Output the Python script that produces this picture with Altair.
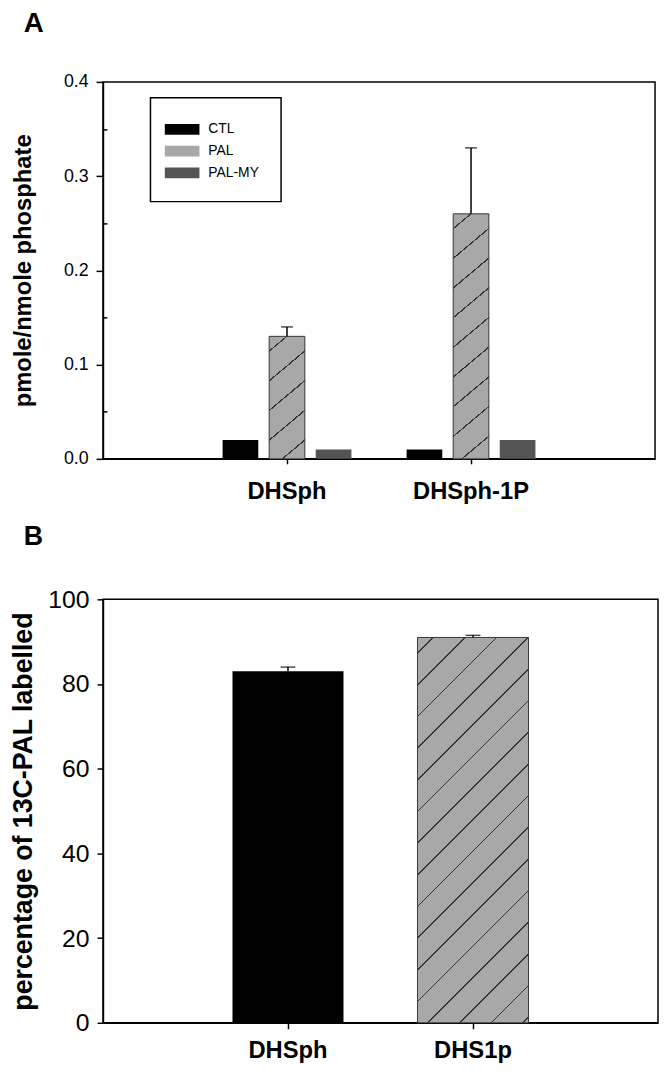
import math
import altair as alt
import pandas as pd

FONT = "Liberation Sans"

# ---------------- Panel A data ----------------
a_lipids = ["DHSph", "DHSph-1P"]
a_groups = ["CTL", "PAL", "PAL-MY"]
a_ctl = [0.02, 0.01]
a_pal = [0.13, 0.26]
a_palmy = [0.01, 0.02]
a_ctl_err = [0.0, 0.0]
a_pal_err = [0.01, 0.07]
a_palmy_err = [0.0, 0.0]
a_colors = ["#000000", "#a8a8a8", "#555555"]
a_yticks = [0.0, 0.1, 0.2, 0.3, 0.4]
a_yminor = [0.05, 0.15, 0.25, 0.35]

# ---------------- Panel B data ----------------
b_lipids = ["DHSph", "DHS1p"]
b_values = [83, 91]
b_err = [1.0, 0.5]
b_colors = ["#000000", "#a8a8a8"]
b_yticks = [0, 20, 40, 60, 80, 100]

# sizes (style)
A_W, A_H, A_MAX = 558, 381, 0.4
B_W, B_H, B_MAX = 561, 428, 100


def hatch(w, h, theta=45.0, sy=31.0, lw=1.2, base="#a8a8a8", line="#333333"):
    """Linear-gradient fill that draws diagonal hatch lines on a w x h rect."""
    k = h / (w * math.tan(math.radians(theta)))
    gx = (1 + k) / (1 + k * k)
    gy = k * gx
    period = sy * k / (h * (1 + k))
    g = math.sqrt(1 / w ** 2 + k ** 2 / h ** 2) / (1 + k)
    half = lw * g / 2
    stops = [{"offset": 0, "color": base}]
    c = period * 0.5
    while c - half < 1:
        a = max(c - half, 0)
        b = min(c + half, 1)
        stops += [{"offset": a, "color": base}, {"offset": a, "color": line},
                  {"offset": b, "color": line}, {"offset": b, "color": base}]
        c += period
    stops.append({"offset": 1, "color": base})
    return {"gradient": "linear", "x1": 0, "y1": 0, "x2": gx, "y2": gy, "stops": stops}


rows = []
for i, lip in enumerate(a_lipids):
    for grp, vals, errs in zip(a_groups, [a_ctl, a_pal, a_palmy],
                               [a_ctl_err, a_pal_err, a_palmy_err]):
        rows.append({"lipid": lip, "group": grp, "value": vals[i], "err": errs[i]})
df_a = pd.DataFrame(rows)

xa = alt.X("lipid:N", sort=a_lipids,
           scale=alt.Scale(domain=a_lipids, paddingInner=0.3, paddingOuter=0.65),
           axis=alt.Axis(title=None, labelAngle=0, labelFont=FONT, labelFontSize=24,
                         labelFontWeight="bold", labelColor="black", labelPadding=16,
                         tickSize=5, tickWidth=1.5, tickColor="black",
                         domainColor="black", domainWidth=1.5, grid=False))
xoa = alt.XOffset("group:N", sort=a_groups,
                  scale=alt.Scale(domain=a_groups, paddingInner=0.234, paddingOuter=0))
ya_scale = alt.Scale(domain=[0, A_MAX], nice=False, zero=True)

major_a = alt.Axis(values=a_yticks, format=".1f", tickSize=7, tickWidth=1.5,
                   tickColor="black", domainColor="black", domainWidth=1.5,
                   labelFont=FONT, labelFontSize=18, labelColor="black", labelPadding=8,
                   title="pmole/nmole phosphate", titleFont=FONT, titleFontSize=24,
                   titleFontWeight="bold", titleColor="black", titleX=-68,
                   grid=False, orient="left")
minor_a = alt.Axis(values=a_yminor, labels=False, domain=False, tickSize=4, tickWidth=1.5,
                   tickColor="black", offset=-4, grid=False, title=None, orient="left")

base_a = alt.Chart(df_a).encode(x=xa, xOffset=xoa)

bars_a = base_a.mark_bar().encode(
    y=alt.Y("value:Q", scale=ya_scale, axis=major_a),
    color=alt.Color("group:N", sort=a_groups,
                    scale=alt.Scale(domain=a_groups, range=a_colors),
                    legend=alt.Legend(title=None, orient="none", legendX=48, legendY=16,
                                      symbolType="M-1.75,-0.55H1.75V0.55H-1.75Z",
                                      symbolSize=400,
                                      symbolStrokeWidth=0, symbolOpacity=1,
                                      labelFont=FONT, labelFontSize=14, labelColor="black",
                                      labelOffset=16.5, padding=22, rowPadding=5,
                                      strokeColor="black", fillColor="white")),
)

hatch_layers_a = []
for i, lip in enumerate(a_lipids):
    h_px = a_pal[i] / A_MAX * A_H
    grad = hatch(36.1, h_px, theta=40, sy=30)
    hatch_layers_a.append(
        base_a.transform_filter(
            (alt.datum.group == "PAL") & (alt.datum.lipid == lip)
        ).mark_bar(fill=grad, stroke="#3a3a3a", strokeWidth=1).encode(
            y=alt.Y("value:Q", scale=ya_scale, axis=None))
    )

err_a = base_a.transform_filter("datum.err > 0").transform_calculate(
    top="datum.value + datum.err")
rule_a = err_a.mark_rule(color="black", strokeWidth=1.5).encode(
    y=alt.Y("value:Q", scale=ya_scale, axis=None), y2="top:Q")
cap_a = err_a.mark_tick(color="black", thickness=1.5, size=12, orient="horizontal").encode(
    y=alt.Y("top:Q", scale=ya_scale, axis=minor_a))

chart_a = alt.layer(bars_a, *hatch_layers_a, rule_a, cap_a).resolve_axis(
    y="independent").properties(
    width=A_W, height=A_H,
    title=alt.TitleParams("A", anchor="start", frame="group", fontSize=28,
                          fontWeight="bold", font=FONT, color="black",
                          dx=-80, offset=35))

# ---------------- Panel B ----------------
df_b = pd.DataFrame({"lipid": b_lipids, "value": b_values, "err": b_err})
xb = alt.X("lipid:N", sort=b_lipids,
           scale=alt.Scale(domain=b_lipids, paddingInner=0.4, paddingOuter=0.7),
           axis=alt.Axis(title=None, labelAngle=0, labelFont=FONT, labelFontSize=24,
                         labelFontWeight="bold", labelColor="black", labelPadding=10,
                         tickSize=6, tickWidth=1.5, tickColor="black",
                         domainColor="black", domainWidth=1.5, grid=False))
yb_scale = alt.Scale(domain=[0, B_MAX], nice=False)
axis_b = alt.Axis(values=b_yticks, tickSize=6, tickWidth=1.5, tickColor="black",
                  domainColor="black", domainWidth=1.5, labelFont=FONT, labelFontSize=25,
                  labelColor="black", labelPadding=8,
                  title="percentage of 13C-PAL labelled", titleFont=FONT, titleFontSize=27,
                  titleFontWeight="bold", titleColor="black", titleX=-66, grid=False,
                  orient="left")

base_b = alt.Chart(df_b).encode(x=xb)
bars_b = base_b.mark_bar().encode(
    y=alt.Y("value:Q", scale=yb_scale, axis=axis_b),
    color=alt.Color("lipid:N", sort=b_lipids,
                    scale=alt.Scale(domain=b_lipids, range=b_colors), legend=None))
hatch_b = base_b.transform_filter(alt.datum.lipid == "DHS1p").mark_bar(
    fill=hatch(112.2, b_values[1] / B_MAX * B_H, theta=45, sy=32),
    stroke="#3a3a3a", strokeWidth=1).encode(y=alt.Y("value:Q", scale=yb_scale, axis=None))
err_b = base_b.transform_calculate(top="datum.value + datum.err")
rule_b = err_b.mark_rule(color="black", strokeWidth=1.5).encode(
    y=alt.Y("value:Q", scale=yb_scale, axis=None), y2="top:Q")
cap_b = err_b.mark_tick(color="black", thickness=1.5, size=15, orient="horizontal").encode(
    y=alt.Y("top:Q", scale=yb_scale, axis=None))

chart_b = alt.layer(bars_b, hatch_b, rule_b, cap_b).resolve_axis(
    y="independent").properties(
    width=B_W, height=B_H,
    title=alt.TitleParams("B", anchor="start", frame="group", fontSize=27,
                          fontWeight="bold", font=FONT, color="black",
                          dx=-80, offset=37))

chart = alt.vconcat(chart_a, chart_b, spacing=18).resolve_scale(
    color="independent").properties(
    padding={"left": 1, "top": -4, "right": 0, "bottom": 0}
).configure_view(stroke="black", strokeWidth=1.5).configure_legend(strokeWidth=1.5)

chart.save("out.html", embed_options={"renderer": "svg", "actions": False})
